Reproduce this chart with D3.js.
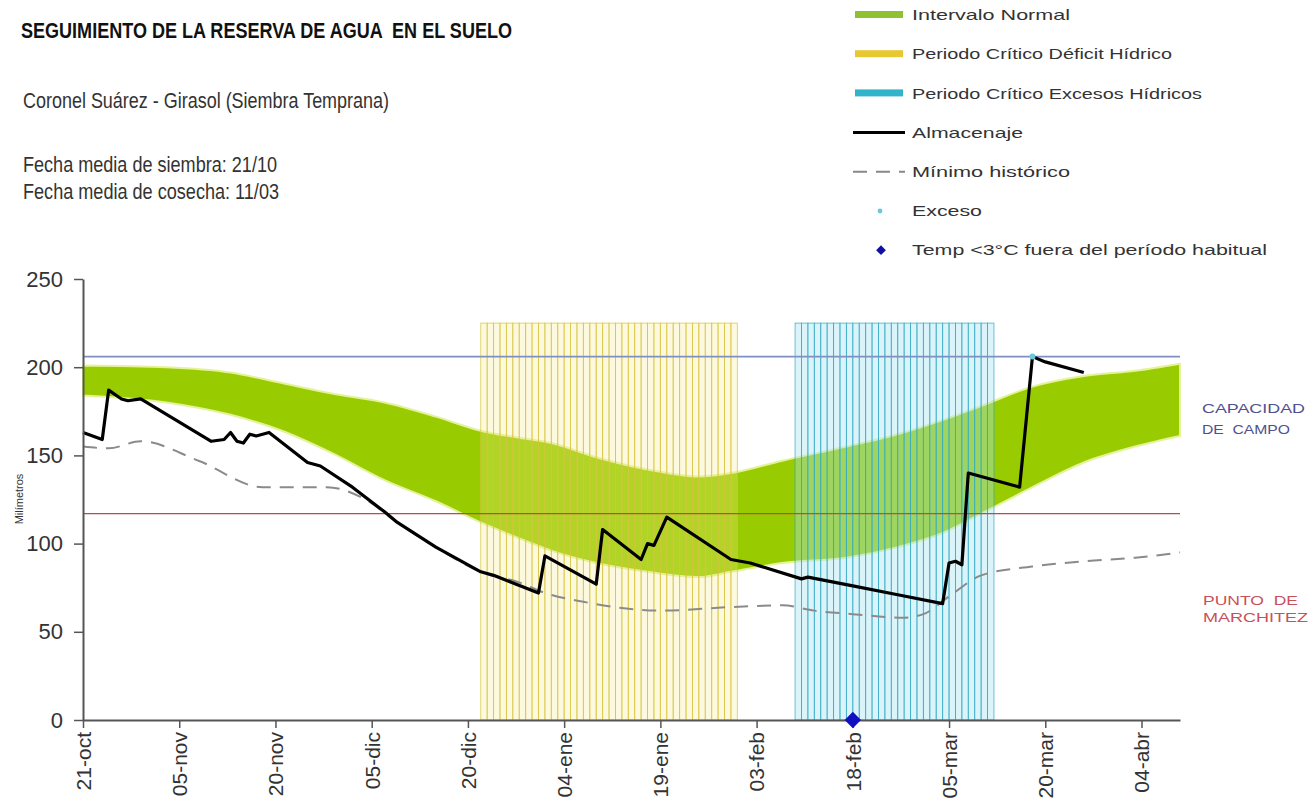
<!doctype html>
<html lang="es">
<head>
<meta charset="utf-8">
<title>Seguimiento de la reserva de agua en el suelo</title>
<script src="https://cdn.jsdelivr.net/npm/d3@7"></script>
<style>
  body{margin:0;background:#fff;font-family:"Liberation Sans",Arial,sans-serif}
  svg text{font-family:"Liberation Sans",Arial,sans-serif;white-space:pre}
</style>
</head>
<body>
<svg id="chart" width="1311" height="811"></svg>
<script>
// fechas: dias contados desde el 21-oct
var fechaInicio = new Date(2020, 9, 21),
    fechaFin = new Date(2021, 3, 10);

var tickDias = [0, 15, 30, 45, 60, 75, 90, 105, 120, 135, 150, 165];
var tickEtiquetas = ["21-oct", "05-nov", "20-nov", "05-dic", "20-dic", "04-ene", "19-ene", "03-feb", "18-feb", "05-mar", "20-mar", "04-abr"];
var yTicks = [0, 50, 100, 150, 200, 250];

// intervalo normal (banda verde)
var normalDias = [0, 13, 23, 31, 39, 47, 55, 62, 68, 73, 80, 88, 96, 101, 109, 119, 127, 134, 140, 148, 156, 164, 171];
var normalSup  = [201, 200, 197, 191, 185, 180, 172, 164, 160, 157, 149, 142, 138, 140, 147, 155, 162, 170, 178, 189, 195, 198, 202];
var normalInf  = [184, 180, 173, 164, 151, 136, 124, 112, 103, 96, 89, 84, 81, 84, 89, 92, 98, 106, 117, 132, 146, 155, 161];

// minimo historico
var minimoDias    = [0, 4, 9, 18, 28, 38, 44, 49, 55, 62, 68, 72, 78, 90, 101, 109, 114, 120, 128, 131, 135, 140, 148, 156, 164, 171];
var minimoValores = [155, 154, 158, 147, 132, 132, 125, 112, 98, 84, 78, 72, 67, 62, 64, 65, 62, 60, 58, 60, 70, 82, 87, 90, 92, 95];

// almacenaje
var almacDias    = [0, 3, 4, 6, 7, 9, 20, 22, 23, 24, 25, 26, 27, 29, 35, 37, 42, 47, 49, 55, 62, 64, 71, 72, 80, 81, 87, 88, 89, 91, 101, 104, 112, 113, 120, 127, 134, 135, 136, 137, 138, 146, 148, 150, 156];
var almacValores = [163, 159, 187, 182, 181, 182, 158, 159, 163, 158, 157, 162, 161, 163, 146, 144, 132, 118, 112, 98, 84, 82, 72, 93, 77, 108, 91, 100, 99, 115, 91, 89, 80, 81, 76, 71, 66, 89, 90, 88, 140, 132, 206, 203, 197];

// periodos criticos (barras diarias)
var deficitDias = [62, 63, 64, 65, 66, 67, 68, 69, 70, 71, 72, 73, 74, 75, 76, 77, 78, 79, 80, 81, 82, 83, 84, 85, 86, 87, 88, 89, 90, 91, 92, 93, 94, 95, 96, 97, 98, 99, 100, 101];
var excesosDias = [111, 112, 113, 114, 115, 116, 117, 118, 119, 120, 121, 122, 123, 124, 125, 126, 127, 128, 129, 130, 131, 132, 133, 134, 135, 136, 137, 138, 139, 140, 141];
var alturaPeriodo = 225;

var excesoDias = [148], excesoValores = [206];
var tempDias = [120], tempValores = [0];

var capacidadCampo = 206, puntoMarchitez = 117;

var legendEtiquetas = ["Intervalo Normal", "Periodo Crítico Déficit Hídrico", "Periodo Crítico Excesos Hídricos", "Almacenaje", "Mínimo histórico", "Exceso", "Temp <3°C fuera del período habitual"];
var legendAnchos = [158, 260, 290, 111, 158, 70, 355];

var svg = d3.select("#chart");
var dia = function (d) { return d3.timeDay.offset(fechaInicio, d); };
var x = d3.scaleTime().domain([fechaInicio, fechaFin]).range([83, 1180]),
    y = d3.scaleLinear().domain([0, 250]).range([720, 279]);

// banda verde
var normal = normalDias.map(function (d, i) { return {dia: d, inf: normalInf[i], sup: normalSup[i]}; });
svg.append("path")
  .datum(normal)
  .attr("d", d3.area().curve(d3.curveMonotoneX)
    .x(function (d) { return x(dia(d.dia)); })
    .y0(function (d) { return y(d.inf); })
    .y1(function (d) { return y(d.sup); }))
  .attr("fill", "#99cc00")
  .attr("stroke", "#e4f29a")
  .attr("stroke-width", 2);

// barras de periodos criticos
function barras(dias, relleno, borde, opac) {
  svg.append("g").selectAll("rect")
    .data(dias).enter().append("rect")
    .attr("x", function (d) { return x(dia(d)); })
    .attr("width", function (d) { return x(dia(d + 1)) - x(dia(d)); })
    .attr("y", y(alturaPeriodo))
    .attr("height", y(0) - y(alturaPeriodo))
    .attr("fill", relleno)
    .attr("fill-opacity", opac)
    .attr("stroke", borde)
    .attr("stroke-opacity", 0.75)
    .attr("stroke-width", 0.9);
}
barras(deficitDias, "#f3e98c", "#d6c33c", 0.28);
barras(excesosDias, "#a4e4f2", "#2ea6c2", 0.4);

// lineas de referencia
svg.append("line")
  .attr("x1", x.range()[0]).attr("x2", x.range()[1])
  .attr("y1", y(capacidadCampo)).attr("y2", y(capacidadCampo))
  .attr("stroke", "#8090c0").attr("stroke-width", 1.6);
svg.append("line")
  .attr("x1", x.range()[0]).attr("x2", x.range()[1])
  .attr("y1", y(puntoMarchitez)).attr("y2", y(puntoMarchitez))
  .attr("stroke", "#c04848").attr("stroke-width", 1.2);

var linea = d3.line()
  .x(function (d) { return x(dia(d[0])); })
  .y(function (d) { return y(d[1]); });

svg.append("path")
  .datum(d3.zip(minimoDias, minimoValores))
  .attr("d", linea.curve(d3.curveMonotoneX))
  .attr("fill", "none")
  .attr("stroke", "#8a8a8a")
  .attr("stroke-width", 2)
  .attr("stroke-dasharray", "14,9");

svg.append("path")
  .datum(d3.zip(almacDias, almacValores))
  .attr("d", linea.curve(d3.curveLinear))
  .attr("fill", "none")
  .attr("stroke", "#000")
  .attr("stroke-width", 3.2)
  .attr("stroke-linejoin", "round");

svg.selectAll("circle.exceso")
  .data(d3.zip(excesoDias, excesoValores)).enter().append("circle")
  .attr("class", "exceso")
  .attr("cx", function (d) { return x(dia(d[0])); })
  .attr("cy", function (d) { return y(d[1]); })
  .attr("r", 3)
  .attr("fill", "#6cc8dc");

// ejes
var gy = svg.append("g").attr("transform", "translate(83,0)")
  .call(d3.axisLeft(y).tickValues(yTicks).tickSize(9).tickSizeOuter(0).tickPadding(11));
var gx = svg.append("g").attr("transform", "translate(0,720)")
  .call(d3.axisBottom(x).tickValues(tickDias.map(dia)).tickSize(8).tickSizeOuter(0)
    .tickFormat(function (d, i) { return tickEtiquetas[i]; }));
[gx, gy].forEach(function (g) {
  g.select(".domain").attr("stroke", "#555").attr("stroke-width", 2);
  g.selectAll(".tick line").attr("stroke", "#555").attr("stroke-width", 1.5);
  g.selectAll("text").attr("fill", "#333").style("font-size", "21px");
});
gy.selectAll("text").style("font-size", "22px");
gx.selectAll("text")
  .attr("transform", "rotate(-90)")
  .attr("text-anchor", "end")
  .attr("x", -12).attr("y", 0).attr("dy", "0.35em");

svg.selectAll("path.temp")
  .data(d3.zip(tempDias, tempValores)).enter().append("path")
  .attr("class", "temp")
  .attr("d", d3.symbol(d3.symbolDiamond2, 170))
  .attr("transform", function (d) { return "translate(" + x(dia(d[0])) + "," + y(d[1]) + ")"; })
  .attr("fill", "#1010c0");

svg.append("text")
  .attr("transform", "translate(23,499) rotate(-90)")
  .attr("text-anchor", "middle")
  .style("font-size", "11px").attr("fill", "#333")
  .text("Milímetros");

// textos a la derecha
svg.append("text").attr("x", 1202).attr("y", 413).attr("fill", "#50508e").style("font-size", "13px")
  .attr("textLength", 103).attr("lengthAdjust", "spacingAndGlyphs").text("CAPACIDAD");
svg.append("text").attr("x", 1202).attr("y", 434).attr("fill", "#50508e").style("font-size", "13px")
  .attr("textLength", 88).attr("lengthAdjust", "spacingAndGlyphs").text("DE  CAMPO");
svg.append("text").attr("x", 1203).attr("y", 605).attr("fill", "#c8505a").style("font-size", "13px")
  .attr("textLength", 95).attr("lengthAdjust", "spacingAndGlyphs").text("PUNTO  DE");
svg.append("text").attr("x", 1203).attr("y", 622).attr("fill", "#c8505a").style("font-size", "13px")
  .attr("textLength", 105).attr("lengthAdjust", "spacingAndGlyphs").text("MARCHITEZ");

// titulos
svg.append("text").attr("x", 21).attr("y", 38).attr("fill", "#111")
  .style("font-size", "22px").style("font-weight", "bold")
  .attr("textLength", 491).attr("lengthAdjust", "spacingAndGlyphs")
  .text("SEGUIMIENTO DE LA RESERVA DE AGUA  EN EL SUELO");
svg.append("text").attr("x", 23).attr("y", 108).attr("fill", "#333")
  .style("font-size", "22px")
  .attr("textLength", 366).attr("lengthAdjust", "spacingAndGlyphs")
  .text("Coronel Suárez - Girasol (Siembra Temprana)");
svg.append("text").attr("x", 23).attr("y", 172).attr("fill", "#333")
  .style("font-size", "22px")
  .attr("textLength", 254).attr("lengthAdjust", "spacingAndGlyphs")
  .text("Fecha media de siembra: 21/10");
svg.append("text").attr("x", 23).attr("y", 199).attr("fill", "#333")
  .style("font-size", "22px")
  .attr("textLength", 256).attr("lengthAdjust", "spacingAndGlyphs")
  .text("Fecha media de cosecha: 11/03");

// leyenda
var leg = svg.append("g");
legendEtiquetas.forEach(function (t, i) {
  var cy = 15 + i * 39.2;
  if (i === 0) leg.append("rect").attr("x", 855).attr("y", cy - 4).attr("width", 48).attr("height", 7).attr("fill", "#8fc232");
  if (i === 1) leg.append("rect").attr("x", 855).attr("y", cy - 4).attr("width", 48).attr("height", 7).attr("fill", "#e8c832");
  if (i === 2) leg.append("rect").attr("x", 855).attr("y", cy - 4).attr("width", 48).attr("height", 7).attr("fill", "#30b4cc");
  if (i === 3) leg.append("line").attr("x1", 853).attr("x2", 905).attr("y1", cy).attr("y2", cy).attr("stroke", "#000").attr("stroke-width", 3);
  if (i === 4) leg.append("line").attr("x1", 853).attr("x2", 905).attr("y1", cy).attr("y2", cy).attr("stroke", "#888").attr("stroke-width", 2).attr("stroke-dasharray", "14,9");
  if (i === 5) leg.append("circle").attr("cx", 880).attr("cy", cy).attr("r", 2.4).attr("fill", "#6cc8dc");
  if (i === 6) leg.append("path").attr("d", d3.symbol(d3.symbolDiamond2, 60)).attr("transform", "translate(881," + cy + ")").attr("fill", "#1010a0");
  leg.append("text").attr("x", 912).attr("y", cy).attr("dy", "0.35em")
    .attr("fill", "#333").style("font-size", "15px")
    .attr("textLength", legendAnchos[i]).attr("lengthAdjust", "spacingAndGlyphs")
    .text(t);
});
</script>
</body>
</html>
